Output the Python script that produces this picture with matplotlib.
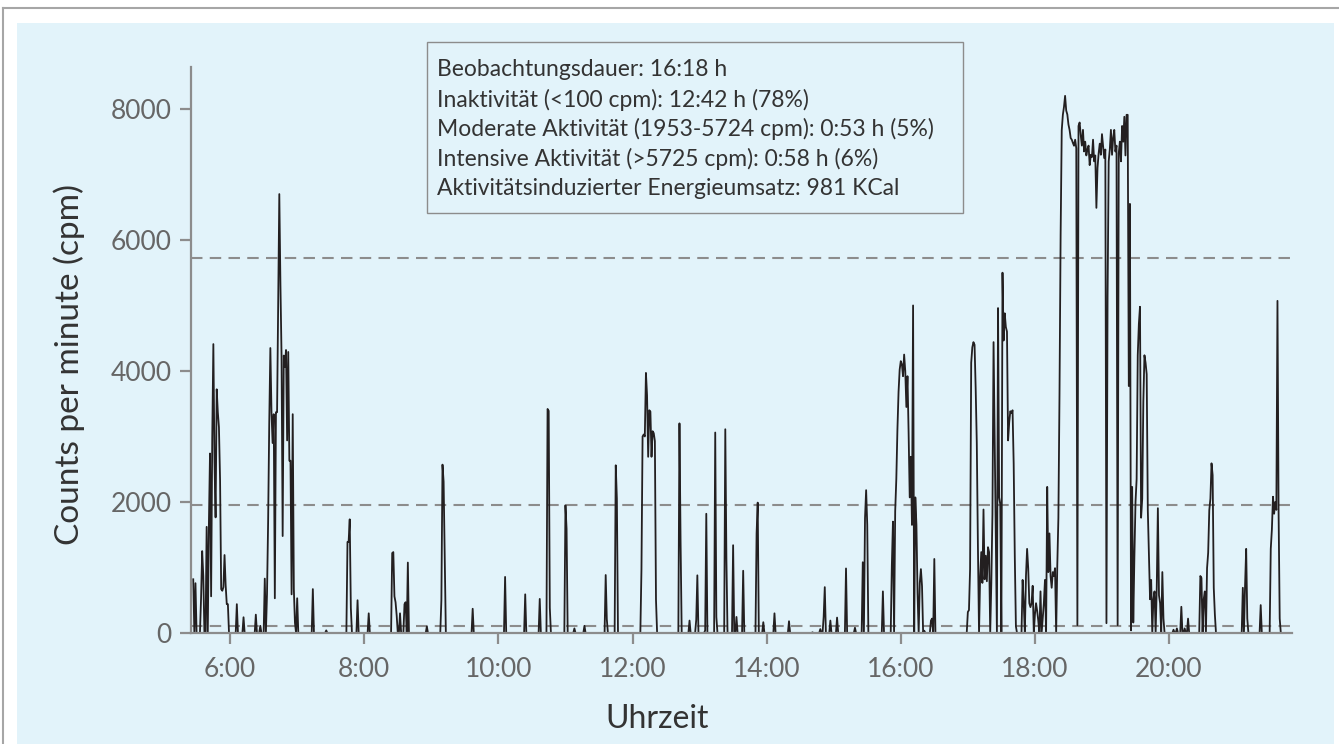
import numpy as np
import matplotlib
matplotlib.use("Agg")
import matplotlib.pyplot as plt
from matplotlib.patches import Rectangle
from matplotlib.lines import Line2D

plt.rcParams['font.family'] = ['Lato', 'DejaVu Sans']

# recording window (minutes since midnight), 5:27 - 21:45
rec_start = 327
rec_end = 1305

# minutes with activity and their counts per minute
act_min = [
    327, 329, 334, 335, 336, 339, 341, 342, 343, 344, 345, 346, 347, 348, 349, 350, 351, 352, 353, 354,
    355, 356, 357, 358, 366, 372, 383, 387,
    391, 393, 394, 395, 396, 397, 398, 399, 400, 401, 402, 403, 404, 405, 406, 407, 408, 409, 410, 411,
    412, 413, 414, 415, 416, 417, 418, 420,
    434, 446, 465, 466, 467, 468, 474, 484, 505, 506, 507, 508, 509, 512, 516, 517, 519, 536, 549, 550,
    551, 552, 577, 606, 624, 637, 644, 645, 646, 660, 661, 668, 677, 696, 697, 705, 706,
    728, 729, 730, 731, 732, 733, 734, 735, 736, 737, 738, 739, 740, 741,
    762, 763, 771, 777, 778, 785, 786, 794, 795, 803, 804, 810, 813, 819, 831, 832, 837, 847, 860, 881,
    888, 891, 892, 897, 903, 911, 919, 926, 928, 929, 930, 944,
    952, 953, 955, 956, 957, 958, 959, 960, 961, 962, 963, 964, 965, 966, 967, 968, 969, 970, 971, 973,
    974, 975, 977, 978, 979, 981, 987, 988, 990,
    1020, 1021, 1022, 1023, 1024, 1025, 1026, 1027, 1028, 1029, 1031, 1032, 1033, 1034, 1035, 1036, 1037,
    1038, 1039, 1041, 1042, 1043, 1044, 1045, 1047, 1048, 1049, 1051, 1052, 1053, 1054, 1055, 1056, 1057,
    1058, 1059, 1060, 1061, 1062, 1063,
    1069, 1070, 1072, 1073, 1074, 1075, 1076, 1077, 1078, 1080, 1081, 1082, 1083, 1085, 1087, 1088, 1089,
    1091, 1092, 1093, 1094, 1095, 1096, 1097, 1098, 1100, 1101, 1102, 1103, 1104, 1105, 1106, 1107, 1108,
    1109, 1110, 1111, 1112, 1113, 1114, 1115, 1116, 1117, 1118, 1119, 1120, 1121, 1122, 1123, 1124, 1125,
    1126, 1127, 1128, 1129, 1130, 1131, 1132, 1133, 1134, 1135, 1136, 1137, 1138, 1139, 1140, 1141, 1142,
    1143, 1144, 1145, 1146, 1147, 1148, 1149, 1150, 1151, 1152, 1153, 1154, 1155, 1156, 1157, 1158, 1159,
    1160, 1161, 1162, 1163, 1164, 1165, 1166, 1167, 1168, 1169, 1170, 1171, 1172, 1173, 1174, 1175, 1176,
    1177, 1178, 1179, 1180, 1181, 1182, 1183, 1184, 1186, 1187, 1189, 1190, 1191, 1192, 1194, 1195,
    1204, 1207, 1211, 1214, 1217, 1228, 1229, 1231, 1232, 1234, 1235, 1236, 1237, 1238, 1239, 1240, 1241,
    1266, 1268, 1269, 1270, 1282, 1291, 1292, 1293, 1294, 1295, 1296, 1297, 1298, 1299,
]
act_cpm = [
    820, 760, 530, 1250, 870, 1620, 1650, 2740, 560, 2970, 4410, 2630, 1765, 3720, 3370, 3140, 2340, 670, 645, 700,
    1190, 730, 440, 440, 440, 240, 280, 110,
    830, 590, 1700, 3200, 4350, 3370, 2900, 3340, 530, 3370, 3370, 5010, 6700, 5330, 4235, 1480, 4235, 4060, 4320, 2940,
    4290, 2630, 2630, 590, 3340, 670, 155, 530,
    670, 40, 1390, 1390, 1735, 385, 500, 300, 1220, 1235, 560, 470, 270, 300, 440, 470, 1075, 100, 500, 2570,
    2310, 1130, 370, 856, 590, 520, 3420, 3390, 385, 1950, 1590, 70, 110, 885, 210, 2560, 2050,
    970, 3000, 3030, 3000, 3970, 3630, 2690, 3400, 3380, 2690, 3080, 3050, 2930, 505,
    3200, 1390, 190, 200, 880, 40, 1820, 3060, 245, 3110, 1130, 1340, 245, 950, 1520, 1990, 165, 300, 180, 10,
    60, 245, 700, 190, 235, 985, 80, 1080, 1755, 2180, 1650, 635,
    1030, 1700, 1860, 2350, 3110, 3680, 4020, 4150, 4100, 3920, 4250, 4000, 3450, 3920, 3060, 2070, 2690, 1650, 5000, 2070,
    1650, 610, 765, 975, 715, 35, 190, 220, 1130,
    320, 350, 975, 4125, 4360, 4440, 4400, 3735, 2900, 1340, 870, 1235, 765, 1885, 820, 1180, 790,
    1310, 1235, 765, 1810, 4440, 2950, 1440, 4960, 2070, 1965, 5500, 4465, 4880, 4670, 4600, 2940, 3215,
    3385, 3355, 3400, 2586, 1166, 100,
    810, 455, 870, 1284, 990, 455, 395, 455, 720, 280, 455, 340, 190, 635, 220, 455, 810,
    2230, 930, 1520, 870, 690, 930, 870, 990, 1018, 1757, 3650, 6077, 7675, 7911, 8030, 8200, 7975,
    7915, 7763, 7680, 7556, 7530, 7480, 7438, 7530, 7400, 120, 7740, 7793, 7600, 7440, 7680, 7350, 7500,
    7290, 7380, 7440, 7142, 7300, 7265, 7530, 7200, 7290, 6490, 7100, 7320, 7470, 7300, 7615, 7440, 7250,
    7380, 150, 5130, 7200, 7380, 7680, 7300, 7560, 7680, 7350, 7440, 120, 7320, 7500, 7200, 7740, 7500,
    7880, 7290, 7910, 7910, 3770, 6550, 40, 2230, 160, 1166, 2000, 2350, 4240, 4720, 4980, 1760, 2050,
    3530, 4240, 4125, 3950, 1875, 1166, 515, 810, 515, 635, 690, 1905, 575, 455, 930, 220,
    50, 70, 400, 70, 220, 870, 840, 515, 635, 990, 1225, 1875, 2050, 2590, 2410, 690, 280,
    690, 720, 1284, 220, 426, 1284, 1580, 2080, 1820, 2000, 1880, 5070, 1850, 220,
]

# thresholds (cpm)
thresholds = [100, 1953, 5725]

tick_min = [360, 480, 600, 720, 840, 960, 1080, 1200]
tick_lab = ["6:00", "8:00", "10:00", "12:00", "14:00", "16:00", "18:00", "20:00"]
y_ticks = [0, 2000, 4000, 6000, 8000]

info_lines = [
    "Beobachtungsdauer: 16:18 h",
    "Inaktivität (<100 cpm): 12:42 h (78%)",
    "Moderate Aktivität (1953-5724 cpm): 0:53 h (5%)",
    "Intensive Aktivität (>5725 cpm): 0:58 h (6%)",
    "Aktivitätsinduzierter Energieumsatz: 981 KCal",
]

# per-minute series, zero where nothing was recorded
minutes = np.arange(rec_start, rec_end + 1)
counts = np.zeros(len(minutes))
counts[np.array(act_min) - rec_start] = act_cpm

W, H = 1339, 744
fig = plt.figure(figsize=(W / 100, H / 100), dpi=100, facecolor="white")

# light blue panel and thin frame
fig.add_artist(Rectangle((17 / W, 0), 1317 / W, 721 / H, transform=fig.transFigure,
                         facecolor="#e2f3fa", edgecolor="none", zorder=-10))
fig.add_artist(Line2D([3 / W, 1], [1 - 8 / H, 1 - 8 / H], transform=fig.transFigure,
                      color="#a6a6a6", lw=1.5, zorder=-9))
fig.add_artist(Line2D([3 / W, 3 / W], [0, 1 - 8 / H], transform=fig.transFigure,
                      color="#a6a6a6", lw=1.5, zorder=-9))

ax = fig.add_axes([191 / W, 111 / H, 1101 / W, 566 / H])
ax.set_facecolor("none")

grey = "#8c8c8c"
for th in thresholds:
    ax.axhline(th, color=grey, lw=1.5, ls=(0, (5.5, 3.5)), zorder=1)

ax.plot(minutes, counts, color="#231f20", lw=1.3, zorder=2)

ax.set_xlim(325, 1310)
ax.set_ylim(0, 8640)
ax.set_xticks(tick_min)
ax.set_xticklabels(tick_lab)
ax.set_yticks(y_ticks)

for s in ["top", "right"]:
    ax.spines[s].set_visible(False)
for s in ["left", "bottom"]:
    ax.spines[s].set_color(grey)
    ax.spines[s].set_linewidth(1.6)
ax.tick_params(axis="both", colors=grey, width=1.6, length=8, labelsize=19,
               labelcolor="#666666")
ax.tick_params(axis="x", pad=9)
ax.tick_params(axis="y", pad=6)

ax.set_ylabel("Counts per minute (cpm)", fontsize=24, color="#333333")
ax.yaxis.set_label_coords(-0.096, 0.474)
ax.set_xlabel("Uhrzeit", fontsize=23, color="#333333")
ax.xaxis.set_label_coords(0.423, -0.125)

# info box
fig.add_artist(Rectangle((427 / W, 1 - 213 / H), 536 / W, 171 / H, transform=fig.transFigure,
                         facecolor="#e2f3fa", edgecolor="#8c8c8c", lw=1.0, zorder=5))
for i, line in enumerate(info_lines):
    yc = 68 + i * 29.7
    fig.text(437 / W, 1 - yc / H, line, fontsize=16.5, color="#333333",
             va="center_baseline", ha="left", zorder=6)

fig.savefig("out.png", dpi=100, facecolor="white")
